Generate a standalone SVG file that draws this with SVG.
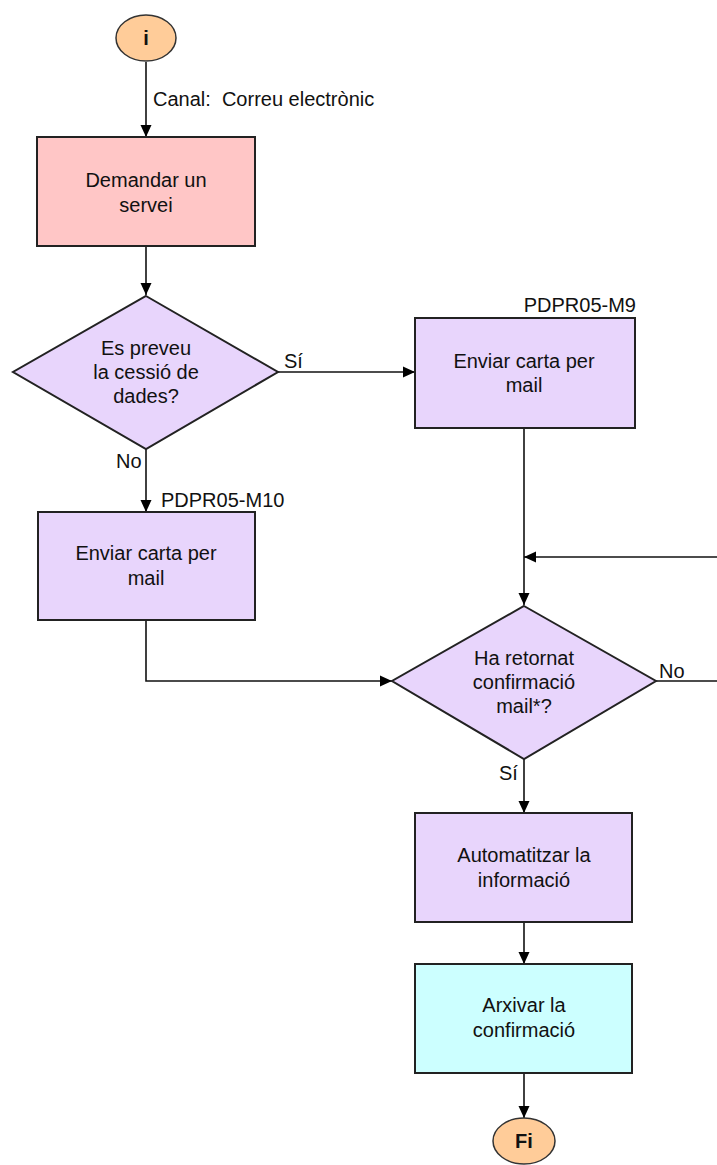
<svg xmlns="http://www.w3.org/2000/svg" width="717" height="1165" viewBox="0 0 717 1165">
<defs>
<marker id="arr" markerUnits="userSpaceOnUse" markerWidth="13" markerHeight="13" refX="12" refY="6.5" orient="auto">
<path d="M0,1 L12,6.5 L0,12 z" fill="#000"/>
</marker>
<style>
.t{font-family:"Liberation Sans",Arial,sans-serif;font-size:20px;fill:#111;text-anchor:middle}
.l{font-family:"Liberation Sans",Arial,sans-serif;font-size:20px;fill:#111}
.b{font-family:"Liberation Sans",Arial,sans-serif;font-size:20px;font-weight:bold;fill:#111;text-anchor:middle}
.box{stroke:#222;stroke-width:2}
.lav{fill:#E8D5FC}
.pink{fill:#FFC6C6}
.cyan{fill:#CCFFFF}
.term{fill:#FFCC99;stroke:#333;stroke-width:1.5}
.c{fill:none;stroke:#111;stroke-width:1.6}
</style>
</defs>
<rect width="717" height="1165" fill="#fff"/>
<g id="connectors">
<line class="c" x1="146" y1="62" x2="146" y2="137" marker-end="url(#arr)"/>
<line class="c" x1="146" y1="246" x2="146" y2="295" marker-end="url(#arr)"/>
<line class="c" x1="278" y1="372" x2="415" y2="372" marker-end="url(#arr)"/>
<line class="c" x1="146" y1="449" x2="146" y2="512" marker-end="url(#arr)"/>
<line class="c" x1="524" y1="428" x2="524" y2="605" marker-end="url(#arr)"/>
<line class="c" x1="717" y1="557" x2="524" y2="557" marker-end="url(#arr)"/>
<polyline class="c" points="146,620 146,681 392,681" marker-end="url(#arr)"/>
<line class="c" x1="656" y1="681" x2="717" y2="681"/>
<line class="c" x1="524" y1="759" x2="524" y2="813" marker-end="url(#arr)"/>
<line class="c" x1="524" y1="922" x2="524" y2="964" marker-end="url(#arr)"/>
<line class="c" x1="524" y1="1073" x2="524" y2="1118" marker-end="url(#arr)"/>
<text class="l" x="153" y="106" xml:space="preserve">Canal:  Correu electrònic</text>
<text class="l" x="284" y="368">Sí</text>
<text class="l" x="116" y="468">No</text>
<text class="l" x="659" y="678">No</text>
<text class="l" x="499" y="780">Sí</text>
</g>
<g id="start">
<ellipse class="term" cx="146" cy="38" rx="30" ry="23"/>
<text class="b" x="146" y="45">i</text>
</g>
<g id="demandar">
<rect class="box pink" x="37" y="137" width="218" height="109"/>
<text class="t" x="146" y="187">Demandar un</text>
<text class="t" x="146" y="212">servei</text>
</g>
<g id="decisio1">
<polygon class="box lav" points="146,296 278,372 146,449 13,372"/>
<text class="t" x="146" y="355">Es preveu</text>
<text class="t" x="146" y="379">la cessió de</text>
<text class="t" x="146" y="403">dades?</text>
</g>
<g id="enviar-m9">
<rect class="box lav" x="415" y="318" width="220" height="110"/>
<text class="t" x="524" y="368">Enviar carta per</text>
<text class="t" x="524" y="392">mail</text>
<text class="l" x="636" y="312" text-anchor="end">PDPR05-M9</text>
</g>
<g id="enviar-m10">
<rect class="box lav" x="38" y="512" width="217" height="108"/>
<text class="t" x="146" y="560">Enviar carta per</text>
<text class="t" x="146" y="585">mail</text>
<text class="l" x="161" y="507">PDPR05-M10</text>
</g>
<g id="decisio2">
<polygon class="box lav" points="524,606 656,681 524,759 392,681"/>
<text class="t" x="524" y="665">Ha retornat</text>
<text class="t" x="524" y="689">confirmació</text>
<text class="t" x="524" y="713">mail*?</text>
</g>
<g id="automatitzar">
<rect class="box lav" x="415" y="813" width="217" height="109"/>
<text class="t" x="524" y="862">Automatitzar la</text>
<text class="t" x="524" y="887">informació</text>
</g>
<g id="arxivar">
<rect class="box cyan" x="415" y="964" width="217" height="109"/>
<text class="t" x="524" y="1012">Arxivar la</text>
<text class="t" x="524" y="1037">confirmació</text>
</g>
<g id="fi">
<ellipse class="term" cx="524" cy="1141" rx="31" ry="23"/>
<text class="b" x="524" y="1148">Fi</text>
</g>
</svg>
